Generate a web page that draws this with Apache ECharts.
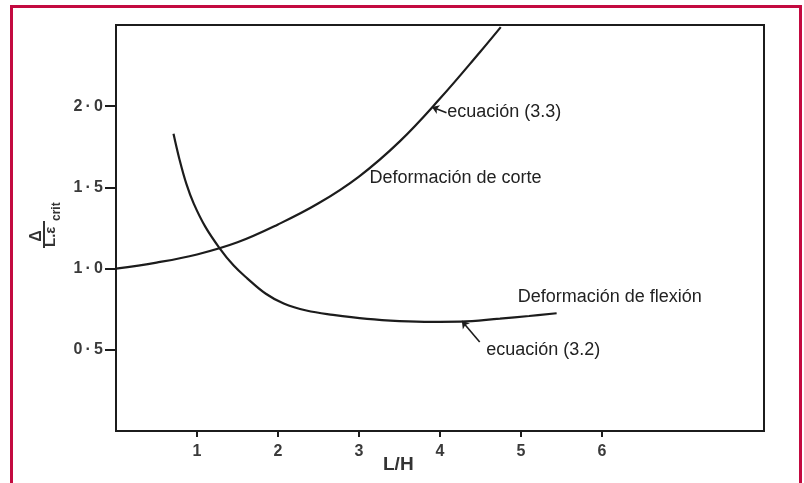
<!DOCTYPE html>
<html>
<head>
<meta charset="utf-8">
<script src="https://cdn.jsdelivr.net/npm/echarts@6/dist/echarts.min.js"></script>
<style>
  html, body { margin: 0; padding: 0; background: #ffffff; }
  #chart { width: 804px; height: 483px; }
</style>
</head>
<body>
<div id="chart"></div>
<script>
// Shear deformation curve, ecuación (3.3): L/H vs Δ/(L·ε_crit)
const shearX = [0.0, 0.5, 1.0, 1.5, 2.0, 2.5, 3.0, 3.5, 4.0, 4.5, 4.75];
const shearY = [1.0, 1.037, 1.087, 1.162, 1.272, 1.402, 1.567, 1.782, 2.047, 2.337, 2.487];

// Bending deformation curve, ecuación (3.2)
const bendX = [0.71, 0.78, 0.87, 0.96, 1.10, 1.28, 1.45, 1.62, 1.85, 2.07, 2.35, 2.68, 3.10, 3.50, 3.90, 4.25, 4.74, 5.10, 5.44];
const bendY = [1.83, 1.68, 1.52, 1.40, 1.26, 1.125, 1.02, 0.94, 0.845, 0.785, 0.742, 0.715, 0.69, 0.677, 0.672, 0.673, 0.692, 0.708, 0.725];

// Tick values on each axis
const xTicks = [1, 2, 3, 4, 5, 6];
const yTicks = [0.5, 1.0, 1.5, 2.0];

// Annotation texts, anchored (left edge, vertical middle) in data units
const noteTexts = ['ecuación (3.3)', 'Deformación de corte', 'Deformación de flexión', 'ecuación (3.2)'];
const noteX = [4.09, 3.13, 4.96, 4.57];
const noteY = [1.964, 1.558, 0.825, 0.499];

// Leader arrows: tail -> head, in data units
const arrowFromX = [4.08, 4.49];
const arrowFromY = [1.96, 0.548];
const arrowToX = [3.90, 4.27];
const arrowToY = [1.995, 0.677];

const zip = (xs, ys) => xs.map((x, i) => [x, ys[i]]);
const ink = '#1c1c1c';
const labelFont = 'Liberation Sans, Arial, sans-serif';

const chart = echarts.init(document.getElementById('chart'), null, { renderer: 'canvas' });

chart.setOption({
  animation: false,
  backgroundColor: '#ffffff',
  grid: {
    left: 116, right: 40, top: 25, bottom: 52,
    show: true, borderColor: ink, borderWidth: 2, backgroundColor: 'transparent'
  },
  xAxis: {
    type: 'value', min: 0, max: 8,
    splitLine: { show: false },
    axisLine: { lineStyle: { color: ink, width: 2 } },
    axisTick: { show: true, customValues: xTicks, length: 6, lineStyle: { color: ink, width: 2 } },
    axisLabel: {
      customValues: xTicks, margin: 13,
      color: '#3a3a3a', fontSize: 16, fontWeight: 'bold', fontFamily: labelFont,
      formatter: v => String(v)
    }
  },
  yAxis: {
    type: 'value', min: 0, max: 2.5,
    splitLine: { show: false },
    axisLine: { lineStyle: { color: ink, width: 2 } },
    axisTick: { show: true, customValues: yTicks, length: 11, lineStyle: { color: ink, width: 2 } },
    axisLabel: {
      customValues: yTicks, margin: 13,
      color: '#3a3a3a', fontSize: 16, fontWeight: 'bold', fontFamily: labelFont,
      formatter: v => v.toFixed(1).replace('.', '\u2009·\u2009')
    }
  },
  series: [
    {
      name: 'ecuación (3.3)', type: 'line', data: zip(shearX, shearY),
      smooth: 0.4, showSymbol: false, symbol: 'none',
      lineStyle: { color: ink, width: 2.2 }
    },
    {
      name: 'ecuación (3.2)', type: 'line', data: zip(bendX, bendY),
      smooth: 0.4, showSymbol: false, symbol: 'none',
      lineStyle: { color: ink, width: 2.2 }
    },
    {
      type: 'lines', coordinateSystem: 'cartesian2d',
      symbol: ['none', 'arrow'], symbolSize: 7,
      lineStyle: { color: ink, width: 1.6, opacity: 1 },
      data: arrowFromX.map((x, i) => ({
        coords: [[x, arrowFromY[i]], [arrowToX[i], arrowToY[i]]]
      }))
    }
  ]
});

// Annotation texts, the axis titles and the outer frame
const noteGraphics = noteTexts.map((t, i) => {
  const p = chart.convertToPixel({ gridIndex: 0 }, [noteX[i], noteY[i]]);
  return {
    type: 'text', x: p[0], y: p[1], z: 10,
    style: { text: t, fill: '#222', font: '18px ' + labelFont, textAlign: 'left', textVerticalAlign: 'middle' }
  };
});

chart.setOption({
  graphic: [
    // outer frame
    {
      type: 'rect', shape: { x: 11.5, y: 6.5, width: 789, height: 520 }, z: 20,
      style: { fill: 'none', stroke: '#c30a40', lineWidth: 3 }
    },
    // x-axis title
    {
      type: 'text', x: 383, y: 465, z: 10,
      style: { text: 'L/H', fill: '#333', font: 'bold 19px ' + labelFont, textAlign: 'left', textVerticalAlign: 'middle' }
    },
    // y-axis title: Δ over L.ε_crit, turned to read upward
    {
      type: 'group', x: 30, y: 248, rotation: Math.PI / 2, z: 10,
      children: [
        { type: 'text', x: 12, y: 7, style: { text: 'Δ', fill: '#333', font: 'bold 16px ' + labelFont, textAlign: 'center', textVerticalAlign: 'middle' } },
        { type: 'line', shape: { x1: 0, y1: 14, x2: 27, y2: 14 }, style: { stroke: '#333', lineWidth: 2 } },
        { type: 'text', x: 1, y: 21, style: { text: 'L.ε', fill: '#333', font: 'bold 15px ' + labelFont, textAlign: 'left', textVerticalAlign: 'middle' } },
        { type: 'text', x: 27, y: 27, style: { text: 'crit', fill: '#333', font: 'bold 12px ' + labelFont, textAlign: 'left', textVerticalAlign: 'middle' } }
      ]
    }
  ].concat(noteGraphics)
});
</script>
</body>
</html>
